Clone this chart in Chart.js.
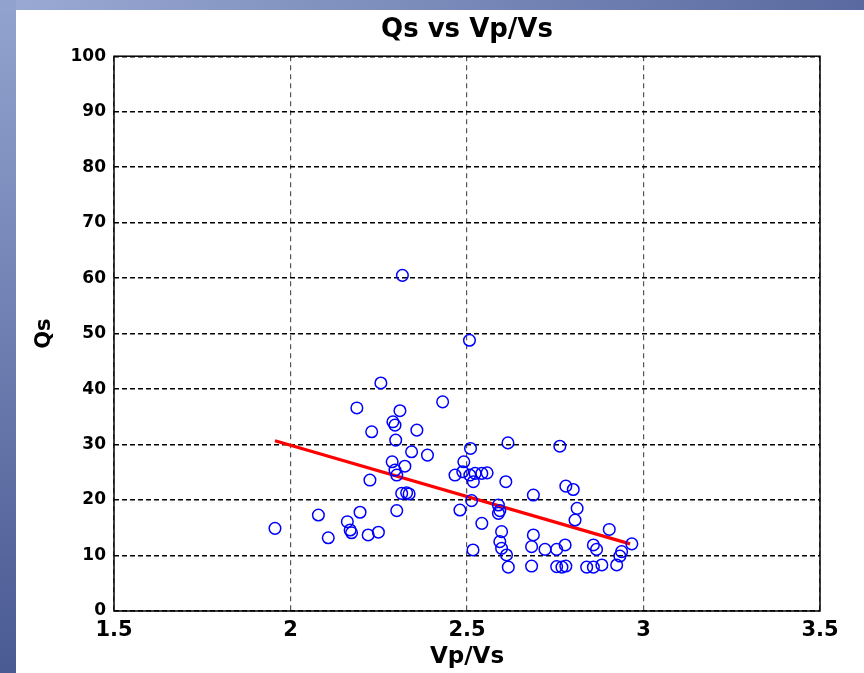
<!DOCTYPE html>
<html>
<head>
<meta charset="utf-8">
<title>Qs vs Vp/Vs</title>
<script src="https://cdn.jsdelivr.net/npm/chart.js@4.4.0/dist/chart.umd.min.js"></script>
<style>
  html, body { margin: 0; padding: 0; background: #fff; overflow: hidden; }
  #page { position: relative; width: 864px; height: 673px; background: #fff; }
  #topBar { position: absolute; left: 0; top: 0; width: 864px; height: 10px; background: linear-gradient(to right, #9aaad3, #5a6aa0); }
  #sideBar { position: absolute; left: 0; top: 0; width: 16px; height: 673px; background: linear-gradient(to bottom, #93a3cf, #4a5a93); }
  #chartBox { position: absolute; left: 16px; top: 10px; width: 848px; height: 663px; }
</style>
</head>
<body>
<div id="page">
  <div id="topBar"></div>
  <div id="sideBar"></div>
  <div id="chartBox"><canvas id="qsChart" width="848" height="663"></canvas></div>
</div>
<script>
// Vp/Vs ratio and Qs for each station
const vpvs = [
  1.956, 2.079, 2.107, 2.161, 2.173, 2.169, 2.188, 2.197, 2.220, 2.230,
  2.225, 2.249, 2.256, 2.288, 2.290, 2.296, 2.298, 2.301, 2.296, 2.301,
  2.310, 2.317, 2.324, 2.315, 2.329, 2.336, 2.343, 2.358, 2.388, 2.431,
  2.466, 2.488, 2.491, 2.480, 2.507, 2.510, 2.508, 2.523, 2.542, 2.557,
  2.518, 2.513, 2.517, 2.542, 2.589, 2.593, 2.589, 2.598, 2.593, 2.598,
  2.612, 2.617, 2.616, 2.610, 2.688, 2.688, 2.683, 2.683, 2.721, 2.754,
  2.754, 2.763, 2.778, 2.769, 2.780, 2.780, 2.801, 2.812, 2.806, 2.839,
  2.858, 2.867, 2.858, 2.882, 2.903, 2.924, 2.938, 2.933, 2.967
];
const qs = [
  14.9, 17.3, 13.2, 16.1, 14.1, 14.6, 36.6, 17.8, 13.7, 32.3,
  23.6, 14.2, 41.1, 26.9, 34.1, 33.5, 30.8, 18.1, 25.4, 24.5,
  36.1, 60.5, 26.1, 21.2, 21.3, 21.1, 28.7, 32.6, 28.1, 37.7,
  24.5, 25.1, 26.9, 18.2, 48.8, 29.3, 24.5, 24.8, 24.8, 24.9,
  23.3, 19.9, 11.0, 15.8, 19.1, 18.1, 17.6, 14.3, 12.5, 11.3,
  10.1, 7.9, 30.3, 23.3, 20.9, 13.7, 11.6, 8.1, 11.1, 11.1,
  8.0, 29.7, 11.9, 7.9, 8.1, 22.5, 21.9, 18.5, 16.4, 7.9,
  11.9, 11.1, 7.9, 8.3, 14.7, 8.3, 10.7, 9.9, 12.1
];

// least squares line end points
const fitVpVs = [1.956, 2.962];
const fitQs = [30.7, 12.1];

const xTicks = [1.5, 2, 2.5, 3, 3.5];
const yTicks = [0, 10, 20, 30, 40, 50, 60, 70, 80, 90, 100];

const points = vpvs.map((v, i) => ({ x: v, y: qs[i] }));
const fitLine = fitVpVs.map((v, i) => ({ x: v, y: fitQs[i] }));

// solid box around the plot, like a matlab axes
const axesBox = {
  id: 'axesBox',
  afterDraw(chart) {
    const { ctx, chartArea: a } = chart;
    ctx.save();
    ctx.strokeStyle = '#000';
    ctx.lineWidth = 1.5;
    ctx.setLineDash([]);
    ctx.strokeRect(a.left, a.top, a.right - a.left, a.bottom - a.top);
    ctx.restore();
  }
};

const ctx = document.getElementById('qsChart').getContext('2d');
new Chart(ctx, {
  type: 'scatter',
  data: {
    datasets: [
      {
        data: points,
        pointStyle: 'circle',
        pointRadius: 5.8,
        pointHoverRadius: 5.8,
        pointBorderWidth: 1.5,
        borderColor: '#0000ff',
        backgroundColor: 'rgba(0,0,0,0)'
      },
      {
        type: 'line',
        data: fitLine,
        borderColor: '#ff0000',
        borderWidth: 3.2,
        pointRadius: 0,
        fill: false
      }
    ]
  },
  options: {
    responsive: false,
    animation: false,
    layout: { padding: { right: 44 } },
    plugins: {
      legend: { display: false },
      tooltip: { enabled: false },
      title: {
        display: true,
        text: 'Qs vs Vp/Vs',
        fullSize: false,
        color: '#000',
        font: { family: 'DejaVu Sans', size: 26, weight: 'bold' },
        padding: { top: 5, bottom: 10 }
      }
    },
    scales: {
      x: {
        type: 'linear',
        min: 1.5,
        max: 3.5,
        afterFit: s => { s.height = 62; },
        afterBuildTicks: s => { s.ticks = xTicks.map(v => ({ value: v })); },
        grid: { color: '#555', lineWidth: 1.2, drawTicks: false },
        border: { display: false, dash: [5, 4] },
        ticks: {
          padding: 7,
          color: '#000',
          font: { family: 'DejaVu Sans', size: 21, weight: 'bold' },
          callback: v => String(v)
        },
        title: {
          display: true,
          text: 'Vp/Vs',
          color: '#000',
          font: { family: 'DejaVu Sans', size: 23, weight: 'bold' },
          padding: { top: 0, bottom: 2 }
        }
      },
      y: {
        min: 0,
        max: 100,
        afterFit: s => { s.width = 98; },
        afterBuildTicks: s => { s.ticks = yTicks.map(v => ({ value: v })); },
        grid: { color: '#000', lineWidth: 1.4, drawTicks: false },
        border: { display: false, dash: [5, 3] },
        ticks: {
          padding: 8,
          color: '#000',
          font: { family: 'DejaVu Sans', size: 17, weight: 'bold' },
          callback: v => String(v)
        },
        title: {
          display: true,
          text: 'Qs',
          color: '#000',
          font: { family: 'DejaVu Sans', size: 21, weight: 'bold' },
          padding: { top: 16, bottom: 0 }
        }
      }
    }
  },
  plugins: [axesBox]
});
</script>
</body>
</html>
